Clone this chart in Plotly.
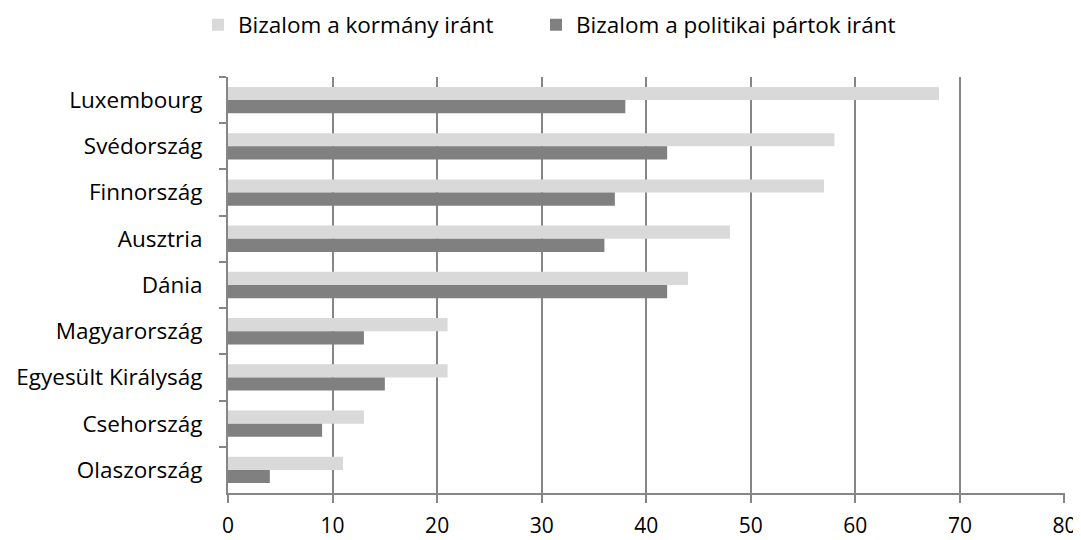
import plotly.graph_objects as go

countries = ["Luxembourg", "Svédország", "Finnország", "Ausztria", "Dánia",
             "Magyarország", "Egyesült Királyság", "Csehország", "Olaszország"]
gov_trust = [68, 58, 57, 48, 44, 21, 21, 13, 11]
party_trust = [38, 42, 37, 36, 42, 13, 15, 9, 4]
series_names = ["Bizalom a kormány iránt", "Bizalom a politikai pártok iránt"]
x_ticks = [0, 10, 20, 30, 40, 50, 60, 70, 80]

FONT = "Open Sans"
FS = 22.5
W, H = 1073, 532  # page body has an 8px margin

fig = go.Figure()
fig.add_trace(go.Bar(y=countries, x=gov_trust, name=series_names[0], orientation="h",
                     marker=dict(color="#D9D9D9", line=dict(width=0)), legend="legend"))
fig.add_trace(go.Bar(y=countries, x=party_trust, name=series_names[1], orientation="h",
                     marker=dict(color="#808080", line=dict(width=0)), legend="legend2"))

legend_common = dict(orientation="h", xanchor="left", yref="container", xref="container",
                     y=1 - 17 / H, yanchor="middle", font=dict(size=FS, family=FONT),
                     itemwidth=30, bgcolor="rgba(0,0,0,0)")

fig.update_layout(
    width=W, height=H,
    margin=dict(l=220, r=16, t=69, b=47, autoexpand=False),
    paper_bgcolor="white", plot_bgcolor="white",
    barmode="group", bargap=0.43, bargroupgap=0,
    font=dict(family=FONT, size=FS, color="black"),
    legend=dict(x=190 / W, **legend_common),
    legend2=dict(x=528 / W, **legend_common),
    showlegend=True,
)
fig.update_xaxes(range=[0, 80.05], tickvals=x_ticks, showgrid=True, gridcolor="#868686",
                 gridwidth=2, showline=True, linecolor="#868686", linewidth=2,
                 ticks="outside", ticklen=8, tickcolor="#868686", tickwidth=2,
                 tickfont=dict(size=21), zeroline=False, automargin=False,
                 ticklabelstandoff=5)
fig.update_yaxes(autorange="reversed", showline=True, linecolor="#868686", linewidth=2,
                 ticks="outside", tickson="boundaries", ticklen=7, tickcolor="#868686",
                 tickwidth=2, tickfont=dict(size=FS), showgrid=False, automargin=False,
                 ticklabelstandoff=19)

fig.write_html("out.html")
